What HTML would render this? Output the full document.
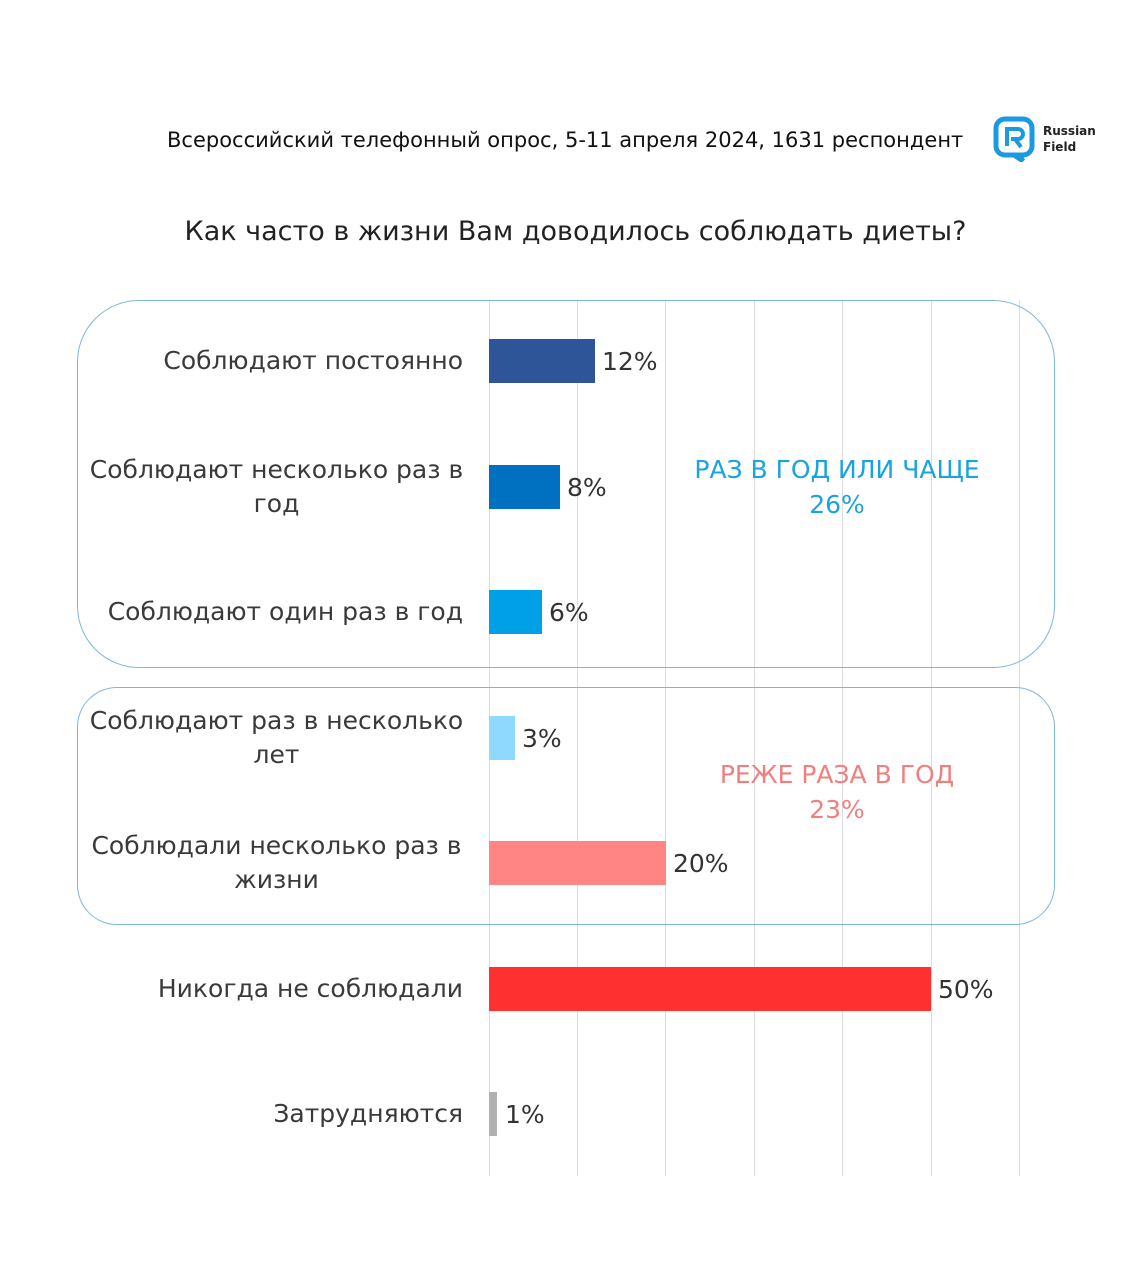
<!DOCTYPE html>
<html><head><meta charset="utf-8"><style>
body{margin:0;width:1131px;height:1280px;background:#fff;position:relative;overflow:hidden;font-family:"DejaVu Sans","Liberation Sans",sans-serif}
.a{position:absolute}
.g{position:absolute;top:300px;height:876px;width:1px;background:#dcdcdc}
.lab{position:absolute;left:70px;width:393px;text-align:right;font-size:25px;color:#3a3a3a;line-height:34px}
.lab span{display:inline-block;max-width:385px;text-align:center}
.lab span.w{margin-right:-6px}
.bar{position:absolute;left:489px;height:44px}
.v{position:absolute;font-size:25px;color:#333}
.box{position:absolute;left:77px;width:976px;border:1.5px solid #7fb6dc}
</style></head><body>
<div class="a" style="left:167px;top:128px;font-size:21px;color:#111;white-space:nowrap">Всероссийский телефонный опрос, 5-11 апреля 2024, 1631 респондент</div>
<svg class="a" style="left:993px;top:116px" width="42" height="46" viewBox="0 0 42 46"><path d="M12 3h18a9 9 0 0 1 9 9v18a9 9 0 0 1-9 9h-4l4 6-9-6h-9a9 9 0 0 1-9-9V12a9 9 0 0 1 9-9z" fill="none" stroke="#1a9be0" stroke-width="5"/><path d="M14 30V13h11a5 5 0 0 1 0 10h-7m4 0l6 8" fill="none" stroke="#1a9be0" stroke-width="4"/></svg>
<div class="a" style="left:1043px;top:123px;font-size:12px;font-weight:bold;color:#222;line-height:16px">Russian<br>Field</div>
<div class="a" style="left:0;width:1151px;top:216px;text-align:center;font-size:27px;color:#222;white-space:nowrap">Как часто в жизни Вам доводилось соблюдать диеты?</div>
<div class="g" style="left:489px"></div><div class="g" style="left:577px"></div><div class="g" style="left:665px"></div><div class="g" style="left:754px"></div><div class="g" style="left:842px"></div><div class="g" style="left:931px"></div><div class="g" style="left:1019px"></div>
<div class="box" style="top:300px;height:366px;border-radius:62px"></div>
<div class="box" style="top:687px;height:236px;border-radius:40px"></div>
<div class="lab" style="top:344px"><span>Соблюдают постоянно</span></div>
<div class="lab" style="top:453px"><span class="w">Соблюдают несколько раз в год</span></div>
<div class="lab" style="top:595px"><span>Соблюдают один раз в год</span></div>
<div class="lab" style="top:704px"><span class="w">Соблюдают раз в несколько лет</span></div>
<div class="lab" style="top:829px"><span class="w">Соблюдали несколько раз в жизни</span></div>
<div class="lab" style="top:972px"><span>Никогда не соблюдали</span></div>
<div class="lab" style="top:1097px"><span>Затрудняются</span></div>
<div class="bar" style="top:339px;width:106px;background:#2e5597"></div><div class="v" style="left:602px;top:347px">12%</div>
<div class="bar" style="top:465px;width:71px;background:#0070c0"></div><div class="v" style="left:567px;top:473px">8%</div>
<div class="bar" style="top:590px;width:53px;background:#00a0e9"></div><div class="v" style="left:549px;top:598px">6%</div>
<div class="bar" style="top:716px;width:26px;background:#8fd8ff"></div><div class="v" style="left:522px;top:724px">3%</div>
<div class="bar" style="top:841px;width:177px;background:#ff8585"></div><div class="v" style="left:673px;top:849px">20%</div>
<div class="bar" style="top:967px;width:442px;background:#ff3030"></div><div class="v" style="left:938px;top:975px">50%</div>
<div class="bar" style="top:1092px;width:8px;background:#b0b0b0"></div><div class="v" style="left:505px;top:1100px">1%</div>
<div class="a" style="left:637px;width:400px;top:452px;text-align:center;font-size:25px;color:#1aa3e0;line-height:35px">РАЗ В ГОД ИЛИ ЧАЩЕ<br>26%</div>
<div class="a" style="left:637px;width:400px;top:757px;text-align:center;font-size:25px;color:#f08080;line-height:35px">РЕЖЕ РАЗА В ГОД<br>23%</div>
</body></html>
